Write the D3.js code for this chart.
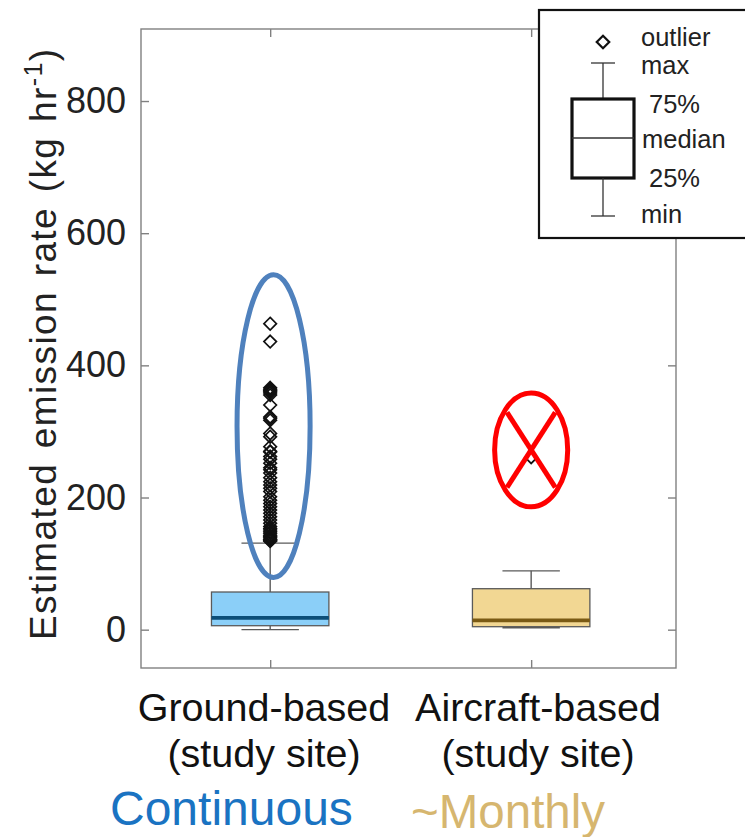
<!DOCTYPE html>
<html>
<head>
<meta charset="utf-8">
<script src="https://cdn.jsdelivr.net/npm/d3@7"></script>
<style>
  html, body { margin: 0; padding: 0; background: #fff; }
  svg { display: block; font-family: "Liberation Sans", Arial, Helvetica, sans-serif; }
</style>
</head>
<body>
<svg id="chart" width="745" height="837"></svg>
<script>
// ---- data -------------------------------------------------------------
const categories = ["Ground-based", "Aircraft-based"];
const subLabels = ["(study site)", "(study site)"];
const frequencyLabels = ["Continuous", "~Monthly"];

// box statistics (kg hr^-1): min, q1, median, q3, max (whisker ends)
const boxMin = [0, 3];
const boxQ1 = [6, 4.5];
const boxMedian = [18, 14];
const boxQ3 = [57, 62];
const boxMax = [131, 89];

const groundOutliers = [
  463, 436, 366, 364, 362, 360, 358, 355, 340, 322, 320, 317, 297, 292,
  277, 270, 269, 262, 258, 252, 245, 242, 237, 230, 224, 219, 214, 209,
  201, 196, 191, 186, 181, 176, 171, 166, 161, 156, 153, 151, 148, 146,
  143, 141, 139, 137, 136, 135, 134
];
const aircraftOutliers = [261];
const outliers = [groundOutliers, aircraftOutliers];

const yTicks = [0, 200, 400, 600, 800];

// annotation spans (value ranges) for the highlight ellipses
const ellipseLow = [79, 186];
const ellipseHigh = [537, 358];

const boxFill = ["#8bcff8", "#f2d793"];
const medianColor = ["#0c4e78", "#7a5a14"];
const freqColor = ["#1a73c2", "#d6b66f"];

// ---- layout -----------------------------------------------------------
const svg = d3.select("#chart");
const frame = { left: 141, right: 676, top: 29, bottom: 668 };

const x = d3.scaleLinear().domain([0.505, 2.555]).range([frame.left, frame.right]);
const y = d3.scaleLinear().domain([-58, 909]).range([frame.bottom, frame.top]);
const boxHalf = 0.225, capHalf = 0.11;
const axisGray = "#808080";

// ---- axes frame (box on, inward ticks on all sides) ----------------------
const g = svg.append("g");
g.append("rect")
  .attr("x", frame.left).attr("y", frame.top)
  .attr("width", frame.right - frame.left).attr("height", frame.bottom - frame.top)
  .attr("fill", "none").attr("stroke", axisGray).attr("stroke-width", 1.4);

const yAxisL = d3.axisLeft(y).tickValues(yTicks).tickSizeInner(-8).tickSizeOuter(0).tickPadding(15);
const gl = g.append("g").attr("transform", `translate(${frame.left},0)`).call(yAxisL);
gl.select(".domain").remove();
gl.selectAll(".tick line").attr("stroke", axisGray).attr("stroke-width", 1.4);
gl.selectAll(".tick text").attr("font-size", 36).attr("fill", "#222")
  .attr("font-family", "Liberation Sans, Arial, sans-serif");

const yAxisR = d3.axisRight(y).tickValues(yTicks).tickSizeInner(-8).tickSizeOuter(0).tickFormat("");
const gr = g.append("g").attr("transform", `translate(${frame.right},0)`).call(yAxisR);
gr.select(".domain").remove();
gr.selectAll(".tick line").attr("stroke", axisGray).attr("stroke-width", 1.4);

const xPos = [1, 2];
const xAxisB = d3.axisBottom(x).tickValues(xPos).tickSizeInner(-8).tickSizeOuter(0).tickFormat("");
const gb = g.append("g").attr("transform", `translate(0,${frame.bottom})`).call(xAxisB);
gb.select(".domain").remove();
gb.selectAll(".tick line").attr("stroke", axisGray).attr("stroke-width", 1.4);

const xAxisT = d3.axisTop(x).tickValues(xPos).tickSizeInner(-8).tickSizeOuter(0).tickFormat("");
const gt = g.append("g").attr("transform", `translate(0,${frame.top})`).call(xAxisT);
gt.select(".domain").remove();
gt.selectAll(".tick line").attr("stroke", axisGray).attr("stroke-width", 1.4);

// ---- boxes ------------------------------------------------------------
const boxes = categories.map((c, i) => ({
  i, pos: xPos[i], min: boxMin[i], q1: boxQ1[i], med: boxMedian[i], q3: boxQ3[i], max: boxMax[i]
}));

const bg = g.append("g").selectAll("g").data(boxes).join("g");
const edge = "#5a5a5a";

// whiskers
bg.append("line")
  .attr("x1", d => x(d.pos)).attr("x2", d => x(d.pos))
  .attr("y1", d => y(d.q3)).attr("y2", d => y(d.max))
  .attr("stroke", edge).attr("stroke-width", 1.4);
bg.append("line")
  .attr("x1", d => x(d.pos)).attr("x2", d => x(d.pos))
  .attr("y1", d => y(d.q1)).attr("y2", d => y(d.min))
  .attr("stroke", edge).attr("stroke-width", 1.4);
// caps
bg.append("line")
  .attr("x1", d => x(d.pos - capHalf)).attr("x2", d => x(d.pos + capHalf))
  .attr("y1", d => y(d.max)).attr("y2", d => y(d.max))
  .attr("stroke", edge).attr("stroke-width", 1.4);
bg.append("line")
  .attr("x1", d => x(d.pos - capHalf)).attr("x2", d => x(d.pos + capHalf))
  .attr("y1", d => y(d.min)).attr("y2", d => y(d.min))
  .attr("stroke", edge).attr("stroke-width", 1.4);
// box
bg.append("rect")
  .attr("x", d => x(d.pos - boxHalf)).attr("width", d => x(d.pos + boxHalf) - x(d.pos - boxHalf))
  .attr("y", d => y(d.q3)).attr("height", d => y(d.q1) - y(d.q3))
  .attr("fill", d => boxFill[d.i]).attr("stroke", edge).attr("stroke-width", 1.3);
// median
bg.append("line")
  .attr("x1", d => x(d.pos - boxHalf)).attr("x2", d => x(d.pos + boxHalf))
  .attr("y1", d => y(d.med)).attr("y2", d => y(d.med))
  .attr("stroke", d => medianColor[d.i]).attr("stroke-width", 3.8);

// ---- outliers (open diamonds) ------------------------------------------
const diamond = d3.symbol().type(d3.symbolDiamond2).size(100);
const outData = outliers.flatMap((arr, i) => arr.map(v => ({ pos: xPos[i], v })));
g.append("g").selectAll("path").data(outData).join("path")
  .attr("d", diamond)
  .attr("transform", d => `translate(${x(d.pos)},${y(d.v)})`)
  .attr("fill", "none").attr("stroke", "#111").attr("stroke-width", 1.7);

// ---- highlight annotations ---------------------------------------------
const ellRx = 0.14;
const ellipses = categories.map((c, i) => ({
  i, cx: x(xPos[i] + (i === 0 ? 0.013 : 0)),
  cy: (y(ellipseLow[i]) + y(ellipseHigh[i])) / 2,
  rx: x(xPos[i] + ellRx) - x(xPos[i]),
  ry: (y(ellipseLow[i]) - y(ellipseHigh[i])) / 2
}));

// continuous record: blue outline
g.append("ellipse")
  .attr("cx", ellipses[0].cx).attr("cy", ellipses[0].cy)
  .attr("rx", ellipses[0].rx).attr("ry", ellipses[0].ry)
  .attr("fill", "none").attr("stroke", "#4f81bd").attr("stroke-width", 5);

// sparse flight outlier: red crossed-out ellipse
const e2 = ellipses[1];
g.append("ellipse")
  .attr("cx", e2.cx).attr("cy", e2.cy).attr("rx", e2.rx).attr("ry", e2.ry)
  .attr("fill", "none").attr("stroke", "#ff0000").attr("stroke-width", 5);
const k = 0.66;
[[-1, -1, 1, 1], [1, -1, -1, 1]].forEach(([a, b, c, d]) => {
  g.append("line")
    .attr("x1", e2.cx + a * k * e2.rx).attr("y1", e2.cy + b * k * e2.ry)
    .attr("x2", e2.cx + c * k * e2.rx).attr("y2", e2.cy + d * k * e2.ry)
    .attr("stroke", "#ff0000").attr("stroke-width", 5);
});

// ---- axis labels -------------------------------------------------------
const yl = svg.append("text")
  .attr("transform", `translate(56,640) rotate(-90)`)
  .attr("text-anchor", "start").attr("font-size", 37).attr("fill", "#222")
  .attr("letter-spacing", 1.4).attr("word-spacing", 3);
yl.append("tspan").text("Estimated emission rate (kg hr");
yl.append("tspan").attr("dy", -14).attr("font-size", 25).text("-1");
yl.append("tspan").attr("dy", 14).text(")");

const labelCx = [264, 538];
categories.forEach((c, i) => {
  svg.append("text").attr("x", labelCx[i]).attr("y", 721)
    .attr("text-anchor", "middle").attr("font-size", 39.5).attr("fill", "#111").text(c);
  svg.append("text").attr("x", labelCx[i]).attr("y", 767)
    .attr("text-anchor", "middle").attr("font-size", 39.5).attr("fill", "#111").text(subLabels[i]);
});
svg.append("text").attr("x", 110).attr("y", 825)
  .attr("font-size", 48).attr("fill", freqColor[0]).text(frequencyLabels[0]);
svg.append("text").attr("x", 411).attr("y", 828)
  .attr("font-size", 47.5).attr("fill", freqColor[1]).text(frequencyLabels[1]);

// ---- legend (schematic box) --------------------------------------------
const lg = svg.append("g").attr("transform", "translate(539,10)");
lg.append("rect").attr("x", 0).attr("y", 0).attr("width", 220).attr("height", 228)
  .attr("fill", "#fff").attr("stroke", "#111").attr("stroke-width", 2.2);
const lx = 64;
lg.append("path").attr("d", diamond).attr("transform", `translate(${lx},32)`)
  .attr("fill", "none").attr("stroke", "#111").attr("stroke-width", 2.2);
lg.append("line").attr("x1", lx - 12).attr("x2", lx + 12).attr("y1", 53).attr("y2", 53)
  .attr("stroke", "#333").attr("stroke-width", 1.3);
lg.append("line").attr("x1", lx).attr("x2", lx).attr("y1", 53).attr("y2", 89)
  .attr("stroke", "#333").attr("stroke-width", 1.3);
lg.append("rect").attr("x", lx - 31).attr("y", 89).attr("width", 62).attr("height", 79)
  .attr("fill", "none").attr("stroke", "#111").attr("stroke-width", 3.2);
lg.append("line").attr("x1", lx - 31).attr("x2", lx + 31).attr("y1", 128).attr("y2", 128)
  .attr("stroke", "#333").attr("stroke-width", 1.3);
lg.append("line").attr("x1", lx).attr("x2", lx).attr("y1", 168).attr("y2", 206)
  .attr("stroke", "#333").attr("stroke-width", 1.3);
lg.append("line").attr("x1", lx - 12).attr("x2", lx + 12).attr("y1", 206).attr("y2", 206)
  .attr("stroke", "#333").attr("stroke-width", 1.3);

const legendText = [
  ["outlier", 102, 36], ["max", 102, 64], ["75%", 110, 103],
  ["median", 103, 138], ["25%", 110, 177], ["min", 102, 213]
];
lg.selectAll("text.leg").data(legendText).join("text").attr("class", "leg")
  .attr("x", d => d[1]).attr("y", d => d[2])
  .attr("font-size", 25.5).attr("fill", "#222").text(d => d[0]);
</script>
</body>
</html>
